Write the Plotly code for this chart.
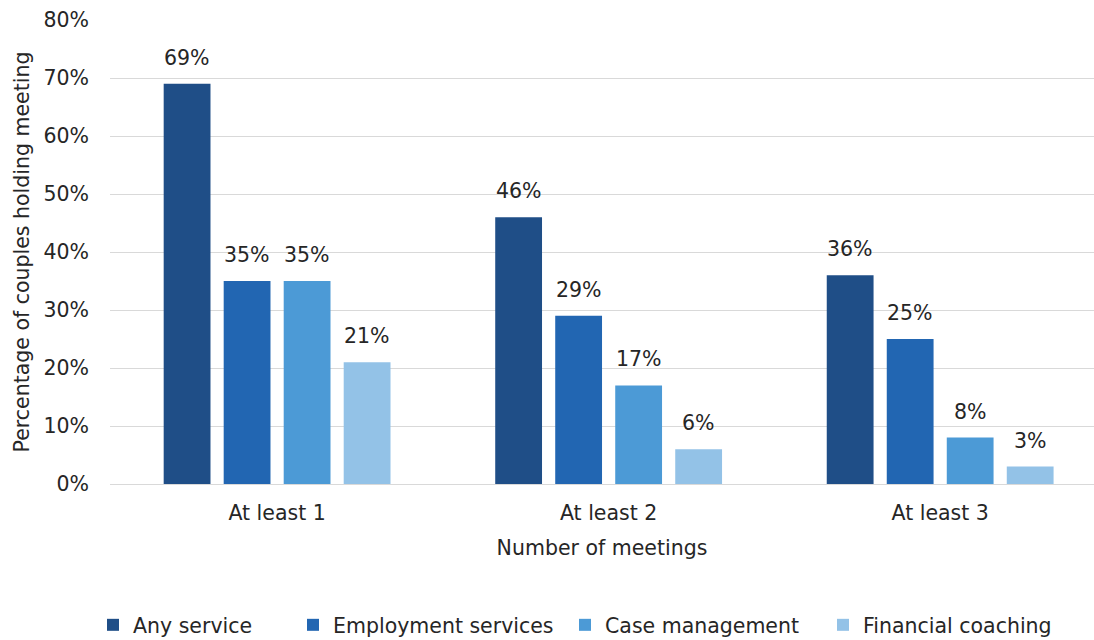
import plotly.graph_objects as go

# Share of couples holding at least N meetings, by service type
categories = ["At least 1", "At least 2", "At least 3"]
series_names = ["Any service", "Employment services", "Case management", "Financial coaching"]
any_service = [0.69, 0.46, 0.36]
employment_services = [0.35, 0.29, 0.25]
case_management = [0.35, 0.17, 0.08]
financial_coaching = [0.21, 0.06, 0.03]
y_ticks = [0, 0.1, 0.2, 0.3, 0.4, 0.5, 0.6, 0.7, 0.8]

series_values = [any_service, employment_services, case_management, financial_coaching]
colors = ["#1F4E87", "#2266B2", "#4C9AD6", "#93C2E7"]

FONT = "DejaVu Sans, Liberation Sans, Arial, sans-serif"
FS = 20.5
TEXT = "#262626"
W, H = 1094, 640

BARGAP = 0.276
BARGROUPGAP = 0.22
n_series = len(series_names)
slot = (1 - BARGAP) / n_series

# one legend box per series so each entry sits at its own x position
legend_ids = ["legend", "legend2", "legend3", "legend4"]
legend_text_x = [133, 333, 605, 863]

fig = go.Figure()
annotations = []
for k, (name, vals, col, lid) in enumerate(zip(series_names, series_values, colors, legend_ids)):
    fig.add_trace(go.Bar(
        x=categories,
        y=vals,
        name=name,
        legend=lid,
        marker=dict(color=col, line=dict(width=0)),
    ))
    # value labels above each bar
    for i, v in enumerate(vals):
        annotations.append(dict(
            x=i + (k - (n_series - 1) / 2) * slot,
            y=v,
            xref="x",
            yref="y",
            text=f"{round(v * 100)}%",
            showarrow=False,
            yanchor="middle",
            yshift=26,
            font=dict(family=FONT, size=FS, color=TEXT),
        ))

legend_layouts = {}
for lid, tx in zip(legend_ids, legend_text_x):
    legend_layouts[lid] = dict(
        orientation="h",
        xref="container",
        yref="container",
        x=(tx - 40) / W,
        xanchor="left",
        y=1 - 625 / H,
        yanchor="middle",
        font=dict(family=FONT, size=FS, color=TEXT),
        itemwidth=30,
        bgcolor="rgba(0,0,0,0)",
    )

fig.update_layout(
    width=W,
    height=H,
    margin=dict(l=110, r=0, t=20, b=156, autoexpand=False),
    paper_bgcolor="white",
    plot_bgcolor="white",
    barmode="group",
    bargap=BARGAP,
    bargroupgap=BARGROUPGAP,
    font=dict(family=FONT, size=FS, color=TEXT),
    annotations=annotations,
    xaxis=dict(
        range=[-0.504, 2.464],
        automargin=False,
        showgrid=False,
        showline=False,
        ticks="",
        ticklabelstandoff=14,
        tickfont=dict(family=FONT, size=FS, color=TEXT),
        title=dict(text="Number of meetings", font=dict(family=FONT, size=FS, color=TEXT), standoff=17),
    ),
    yaxis=dict(
        range=[0, 0.8],
        automargin=False,
        tickvals=y_ticks,
        tickformat=".0%",
        showgrid=True,
        gridcolor="#D9D9D9",
        gridwidth=1,
        zeroline=True,
        zerolinecolor="#D9D9D9",
        zerolinewidth=1,
        showline=False,
        ticks="",
        ticklabelstandoff=20,
        tickfont=dict(family=FONT, size=FS, color=TEXT),
        title=dict(text="Percentage of couples holding meeting",
                   font=dict(family=FONT, size=FS, color=TEXT), standoff=8),
    ),
    showlegend=True,
    **legend_layouts,
)

fig.write_html("out.html")
